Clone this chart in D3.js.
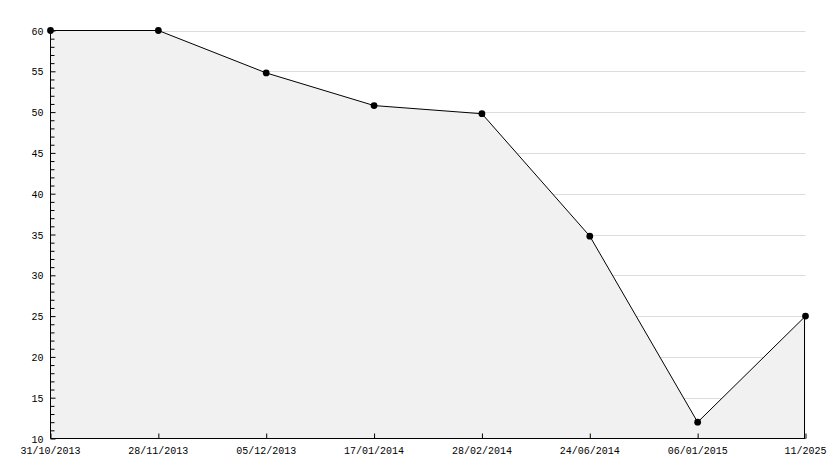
<!DOCTYPE html>
<html><head><meta charset="utf-8">
<script src="https://cdn.jsdelivr.net/npm/d3@7"></script>
<style>body{margin:0;background:#fff}svg{display:block}text{font-family:"Liberation Mono","DejaVu Sans Mono",monospace;font-size:10px;fill:#000}</style>
</head><body>
<script>
const categories = ["31/10/2013","28/11/2013","05/12/2013","17/01/2014","28/02/2014","24/06/2014","06/01/2015","11/2025"];
const values = [60, 60, 54.8, 50.8, 49.8, 34.8, 12, 25];
const yMajorTicks = [10,15,20,25,30,35,40,45,50,55,60];

const W = 834, H = 468;
const m = {left:50.5, right:805.5, top:30.5, bottom:438.5};
const svg = d3.select("body").append("svg").attr("width",W).attr("height",H);

const x = d3.scalePoint().domain(categories).range([m.left, m.right]);
const y = d3.scaleLinear().domain([10,60]).range([m.bottom, m.top]);

// gridlines
svg.append("g").selectAll("line").data(yMajorTicks.slice(1)).join("line")
  .attr("x1",m.left).attr("x2",m.right)
  .attr("y1",d=>Math.round(y(d))+0.5).attr("y2",d=>Math.round(y(d))+0.5)
  .attr("stroke","#dcdcdc").attr("stroke-width",1);

// area
const area = d3.area().x((d,i)=>x(categories[i])).y0(m.bottom).y1(d=>y(d));
svg.append("path").datum(values).attr("d",area).attr("fill","#f1f1f1").attr("stroke","none");
// right edge
svg.append("line").attr("x1",m.right-1).attr("x2",m.right-1).attr("y1",y(values[values.length-1])).attr("y2",m.bottom)
  .attr("stroke","#000").attr("stroke-width",1);

// line
const line = d3.line().x((d,i)=>x(categories[i])).y(d=>y(d));
svg.append("path").datum(values).attr("d",line).attr("fill","none").attr("stroke","#000").attr("stroke-width",1);

// y axis
const yMinor = d3.range(10,61,1);
const yAxis = d3.axisRight(y).tickValues(yMinor).tickSize(4).tickFormat("");
const gy = svg.append("g").attr("transform",`translate(${m.left},0)`).call(yAxis);
gy.select(".domain").remove();
gy.selectAll("line").attr("stroke","#000").attr("x2",d=>d%5===0?5:4);
svg.append("line").attr("x1",m.left).attr("x2",m.left).attr("y1",m.top).attr("y2",m.bottom).attr("stroke","#000");
svg.append("g").selectAll("text").data(yMajorTicks).join("text")
  .attr("x",m.left-7).attr("y",d=>y(d)+4).attr("text-anchor","end").text(d=>d);

// x axis
const xAxis = d3.axisTop(x).tickSize(5).tickFormat("");
const gx = svg.append("g").attr("transform",`translate(0,${m.bottom})`).call(xAxis);
gx.select(".domain").remove();
gx.selectAll("line").attr("stroke","#000");
svg.append("line").attr("x1",m.left).attr("x2",m.right).attr("y1",m.bottom).attr("y2",m.bottom).attr("stroke","#000");
svg.append("g").selectAll("text").data(categories).join("text")
  .attr("x",d=>x(d)).attr("y",m.bottom+15).attr("text-anchor","middle").text(d=>d);

// markers
svg.append("g").selectAll("path").data(values).join("path")
  .attr("transform",(d,i)=>`translate(${x(categories[i])},${y(d)})`)
  .attr("d",d3.symbol().type(d3.symbolCircle).size(36)).attr("fill","#000");
</script>
</body></html>
